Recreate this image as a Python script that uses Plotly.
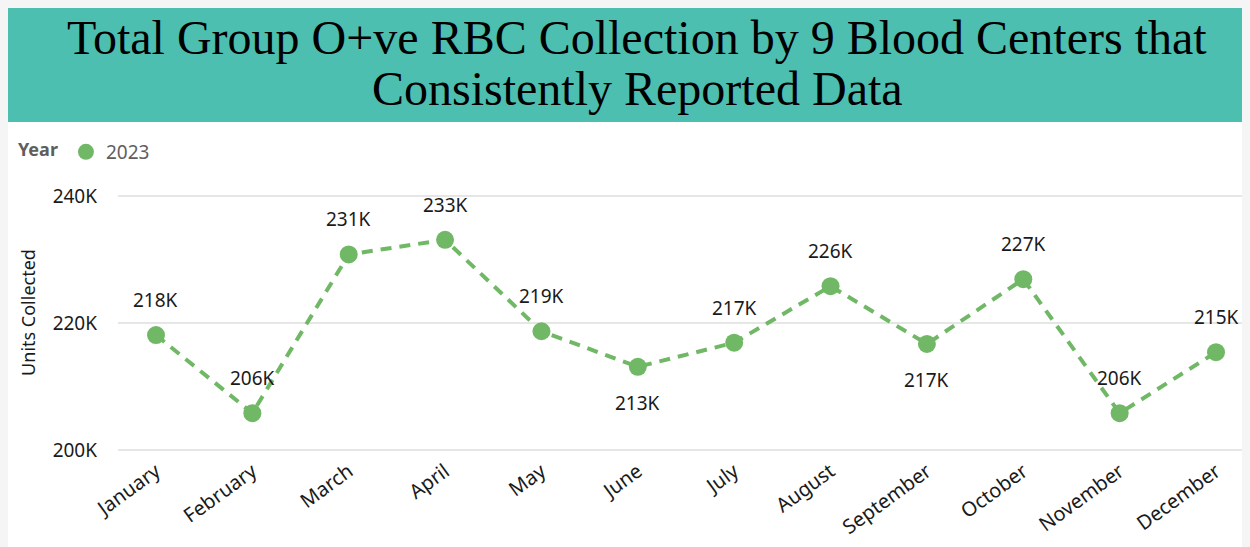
import plotly.graph_objects as go

months = ["January", "February", "March", "April", "May", "June", "July",
          "August", "September", "October", "November", "December"]
units_2023 = [218100, 205800, 230800, 233100, 218700, 213100, 216900,
              225800, 216700, 226900, 205800, 215400]
label_pos = ["top", "top", "top", "top", "top", "bottom", "top",
             "top", "bottom", "top", "top", "top"]
y_ticks = [200000, 220000, 240000]
y_tick_text = ["200K", "220K", "240K"]
series_name = "2023"
title_lines = ["Total Group O+ve RBC Collection by 9 Blood Centers that",
               "Consistently Reported Data"]

GREEN = "#71B866"
TEAL = "#4CBFB0"
FONT = "Noto Sans"

# page body has an 8px margin; figure sized to fill the rest of the window
OFF = 8
W, H = 1250 - OFF, 547 - OFF
L, R, T, B = 118 - OFF, 0, 170 - OFF, 92
pw, ph = W - L - R, H - T - B

def px_x(sx):  # screen x -> paper
    return (sx - OFF - L) / pw

def px_y(sy):  # screen y -> paper
    return (H - B - (sy - OFF)) / ph

fig = go.Figure()
fig.add_trace(go.Scatter(
    x=list(range(len(months))), y=units_2023, mode="lines+markers",
    line=dict(color=GREEN, width=4, dash="11px,8px"),
    marker=dict(color=GREEN, size=18),
    showlegend=False, hoverinfo="skip"))
fig.add_trace(go.Scatter(
    x=[None], y=[None], mode="markers", name=series_name,
    marker=dict(color=GREEN, size=18)))

annotations = []
for i, (v, pos) in enumerate(zip(units_2023, label_pos)):
    annotations.append(dict(
        x=i, y=v, xref="x", yref="y", text=f"{round(v/1000)}K",
        showarrow=False, yshift=35 if pos == "top" else -36,
        font=dict(family=FONT, size=19, color="#1a1a1a")))

for k, line in enumerate(title_lines):
    annotations.append(dict(
        x=px_x(637), y=px_y(37 + 51 * k), xref="paper", yref="paper",
        text=line, showarrow=False, xanchor="center", yanchor="middle",
        font=dict(family="Liberation Serif", size=48, color="#000000")))

shapes = [
    dict(type="rect", xref="paper", yref="paper", x0=px_x(OFF), x1=px_x(1250),
         y0=px_y(122), y1=px_y(OFF), fillcolor=TEAL, line_width=0, layer="below"),
]

fig.update_layout(
    width=W, height=H,
    margin=dict(l=L, r=R, t=T, b=B, autoexpand=False),
    paper_bgcolor="#ffffff", plot_bgcolor="rgba(0,0,0,0)",
    font=dict(family=FONT, color="#1a1a1a"),
    annotations=annotations, shapes=shapes,
    showlegend=True,
    legend=dict(orientation="h", x=px_x(16), y=px_y(152), xanchor="left",
                yanchor="middle", bgcolor="rgba(0,0,0,0)",
                title=dict(text="<b>Year</b>", side="left",
                           font=dict(family=FONT, size=18, color="#605E5C")),
                font=dict(family=FONT, size=19, color="#605E5C"),
                itemwidth=30),
    xaxis=dict(
        tickmode="array", tickvals=list(range(len(months))), ticktext=months,
        tickangle=-36, range=[-(156 - 118) / 96.4, 11 + (1250 - 1216) / 96.4],
        showgrid=False, zeroline=False, showline=False,
        tickfont=dict(family=FONT, size=20, color="#1a1a1a")),
    yaxis=dict(
        range=[200000 - 5 / 6.35 * 1000, 200000 + 280 / 6.35 * 1000],
        tickmode="array", tickvals=y_ticks, ticktext=y_tick_text,
        showgrid=True, gridcolor="#e6e6e6", gridwidth=2, zeroline=False,
        showline=False, ticklabelstandoff=20,
        tickfont=dict(family=FONT, size=19, color="#1a1a1a"),
        title=dict(text="Units Collected", standoff=12,
                   font=dict(family=FONT, size=18, color="#1a1a1a"))),
)

fig.write_html("out.html",
               post_script="document.body.style.background='#f5f5f5';")
